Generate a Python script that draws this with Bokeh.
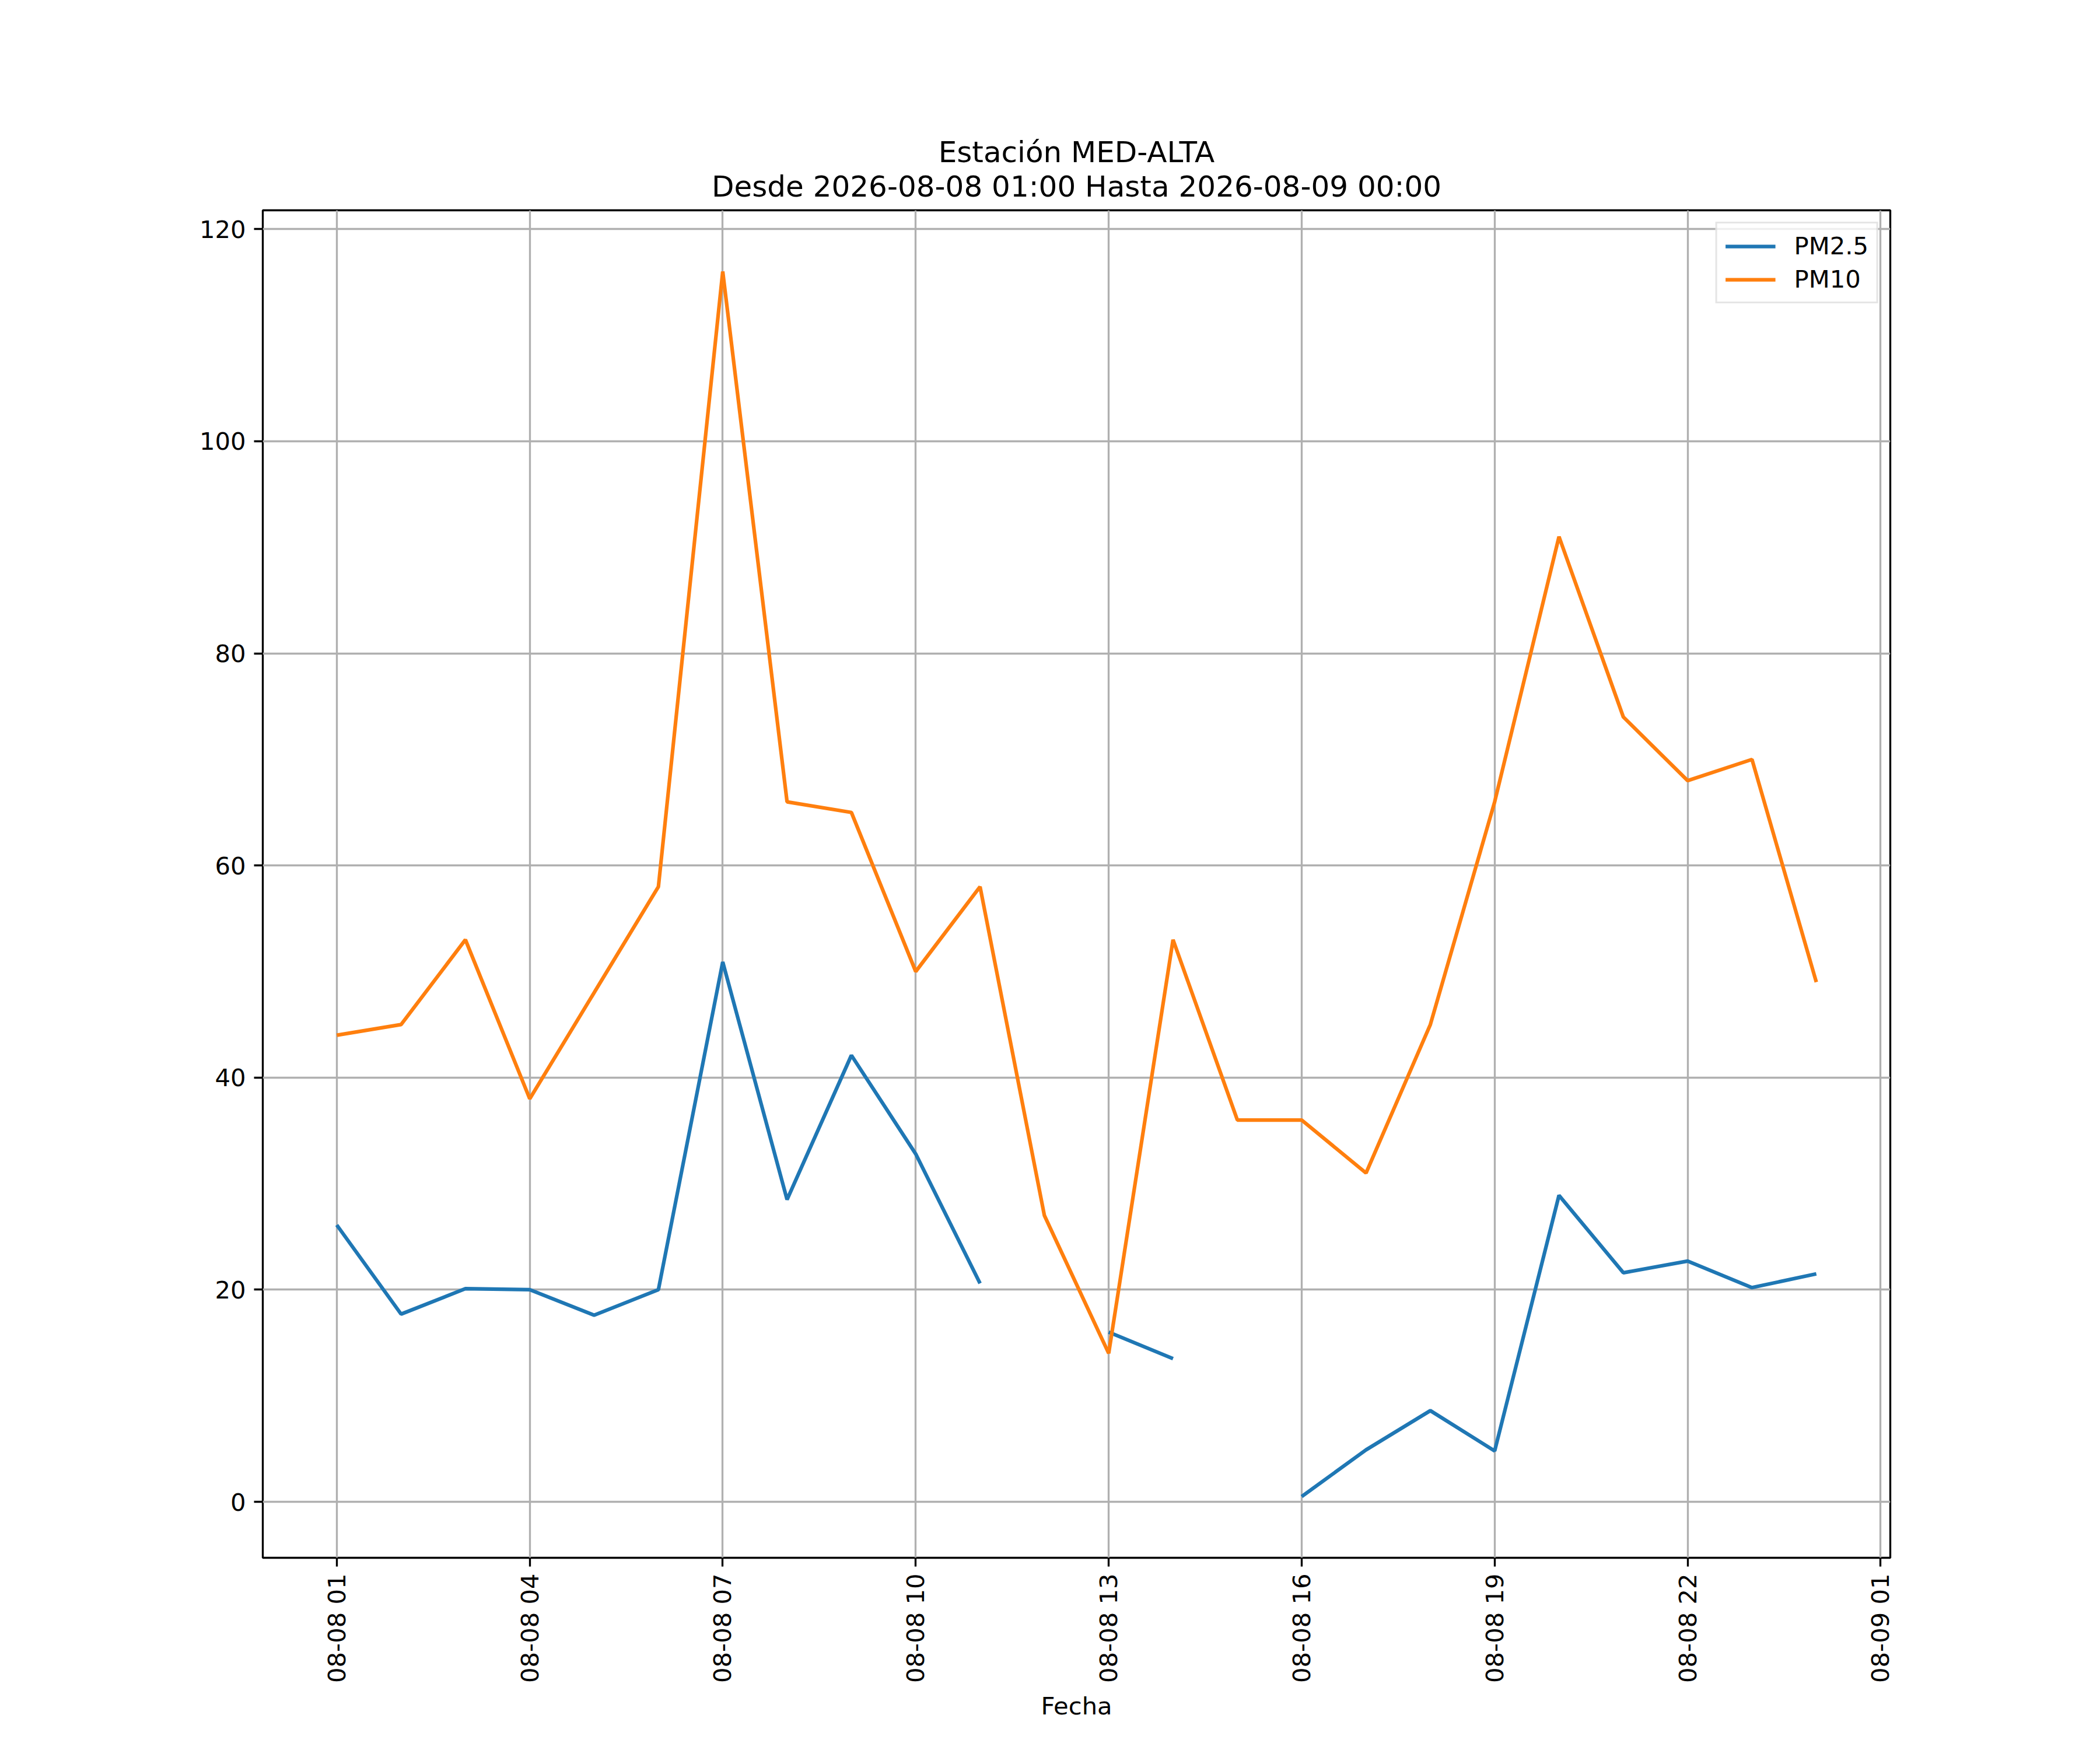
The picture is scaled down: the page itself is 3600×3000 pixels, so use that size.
import math
import numpy as np
import pandas as pd
from bokeh.plotting import figure
from bokeh.models import Range1d, FixedTicker, DatetimeTickFormatter, Legend, LegendItem, Title
from bokeh.embed import file_html
from bokeh.resources import INLINE

# ---- data ----
times = pd.date_range("2026-08-08 01:00", "2026-08-09 00:00", freq="h")
pm25 = [26.1, 17.7, 20.1, 20.0, 17.6, 20.0, 50.9, 28.5, 42.1, 32.8, 20.6, np.nan,
        16.0, 13.5, np.nan, 0.5, 4.9, 8.6, 4.8, 28.9, 21.6, 22.7, 20.2, 21.5]
pm10 = [44, 45, 53, 38, 48, 58, 116, 66, 65, 50, 58, 27,
        14, 53, 36, 36, 31, 45, 66, 91, 74, 68, 70, 49]
series_names = ["PM2.5", "PM10"]
title_lines = ["Estación MED-ALTA", "Desde 2026-08-08 01:00 Hasta 2026-08-09 00:00"]
x_label = "Fecha"
y_ticks = [0, 20, 40, 60, 80, 100, 120]
x_tick_times = pd.date_range("2026-08-08 01:00", "2026-08-09 01:00", freq="3h")

FONT = "DejaVu Sans"
PT = 300 / 72.0  # px per point at 300 dpi

# ranges with 5% margins
t0 = times[0]
t1 = times[-1]
span = t1 - t0
x_start = t0 - span * 0.05
x_end = t1 + span * 0.05
allv = np.array([v for v in pm25 + pm10 if not (isinstance(v, float) and np.isnan(v))], dtype=float)
vmin, vmax = allv.min(), allv.max()
pad = (vmax - vmin) * 0.05

p = figure(x_axis_type="datetime", output_backend="svg", toolbar_location=None,
           title=None,
           frame_width=2790, frame_height=2310,
           x_range=Range1d(x_start, x_end), y_range=Range1d(vmin - pad, vmax + pad),
           min_border_left=450, min_border_right=344, min_border_top=360, min_border_bottom=314)

p.background_fill_color = "white"
p.border_fill_color = "white"
p.outline_line_color = "black"
p.outline_line_width = 0.8 * PT
p.outline_line_alpha = 1.0

# two centred title lines (the one added first sits nearest the frame)
t_bottom = Title(text=title_lines[1], align="center", text_font=FONT,
                 text_font_size=f"{12 * PT:.1f}px", text_font_style="normal",
                 text_color="black", standoff=24)
t_top = Title(text=title_lines[0], align="center", text_font=FONT,
              text_font_size=f"{12 * PT:.1f}px", text_font_style="normal",
              text_color="black", standoff=-26)
p.add_layout(t_bottom, "above")
p.add_layout(t_top, "above")

colors = ["#1f77b4", "#ff7f0e"]
r1 = p.line(times, pm25, line_color=colors[0], line_width=1.5 * PT)
r2 = p.line(times, pm10, line_color=colors[1], line_width=1.5 * PT)

# axes
for ax in (p.xaxis[0], p.yaxis[0]):
    ax.axis_line_color = None
    ax.major_tick_line_color = "black"
    ax.major_tick_line_width = 0.8 * PT
    ax.major_tick_out = int(round(3.5 * PT))
    ax.major_tick_in = 0
    ax.minor_tick_line_color = None
    ax.major_label_text_font = FONT
    ax.major_label_text_font_size = f"{10 * PT:.1f}px"
    ax.major_label_text_color = "black"
    ax.major_label_standoff = 14
    ax.axis_label_text_font = FONT
    ax.axis_label_text_font_size = f"{10 * PT:.1f}px"
    ax.axis_label_text_font_style = "normal"
    ax.axis_label_text_color = "black"

p.yaxis[0].ticker = FixedTicker(ticks=y_ticks)
p.xaxis[0].ticker = FixedTicker(ticks=[t.value / 1e6 for t in x_tick_times])
p.xaxis[0].formatter = DatetimeTickFormatter(hours="%m-%d %H", days="%m-%d %H",
                                             hourmin="%m-%d %H", minutes="%m-%d %H")
p.xaxis[0].major_label_orientation = math.pi / 2
p.xaxis[0].major_label_standoff = 12
p.xaxis[0].axis_label = x_label
p.xaxis[0].axis_label_standoff = 12

for g in (p.xgrid[0], p.ygrid[0]):
    g.grid_line_color = "#b0b0b0"
    g.grid_line_width = 0.8 * PT
p.xgrid[0].ticker = p.xaxis[0].ticker
p.ygrid[0].ticker = p.yaxis[0].ticker

legend = Legend(items=[LegendItem(label=series_names[0], renderers=[r1]),
                       LegendItem(label=series_names[1], renderers=[r2])],
                location="top_right")
legend.margin = 20
legend.padding = 14
legend.spacing = 8
legend.glyph_width = 86
legend.glyph_height = 42
legend.label_standoff = 32
legend.label_text_font = FONT
legend.label_text_font_size = f"{10 * PT:.1f}px"
legend.label_text_color = "black"
legend.label_height = 42
legend.border_line_color = "#cccccc"
legend.border_line_width = 0.8 * PT
legend.background_fill_color = "white"
legend.background_fill_alpha = 0.8
p.add_layout(legend)

open("out.html", "w").write(file_html(p, INLINE))
